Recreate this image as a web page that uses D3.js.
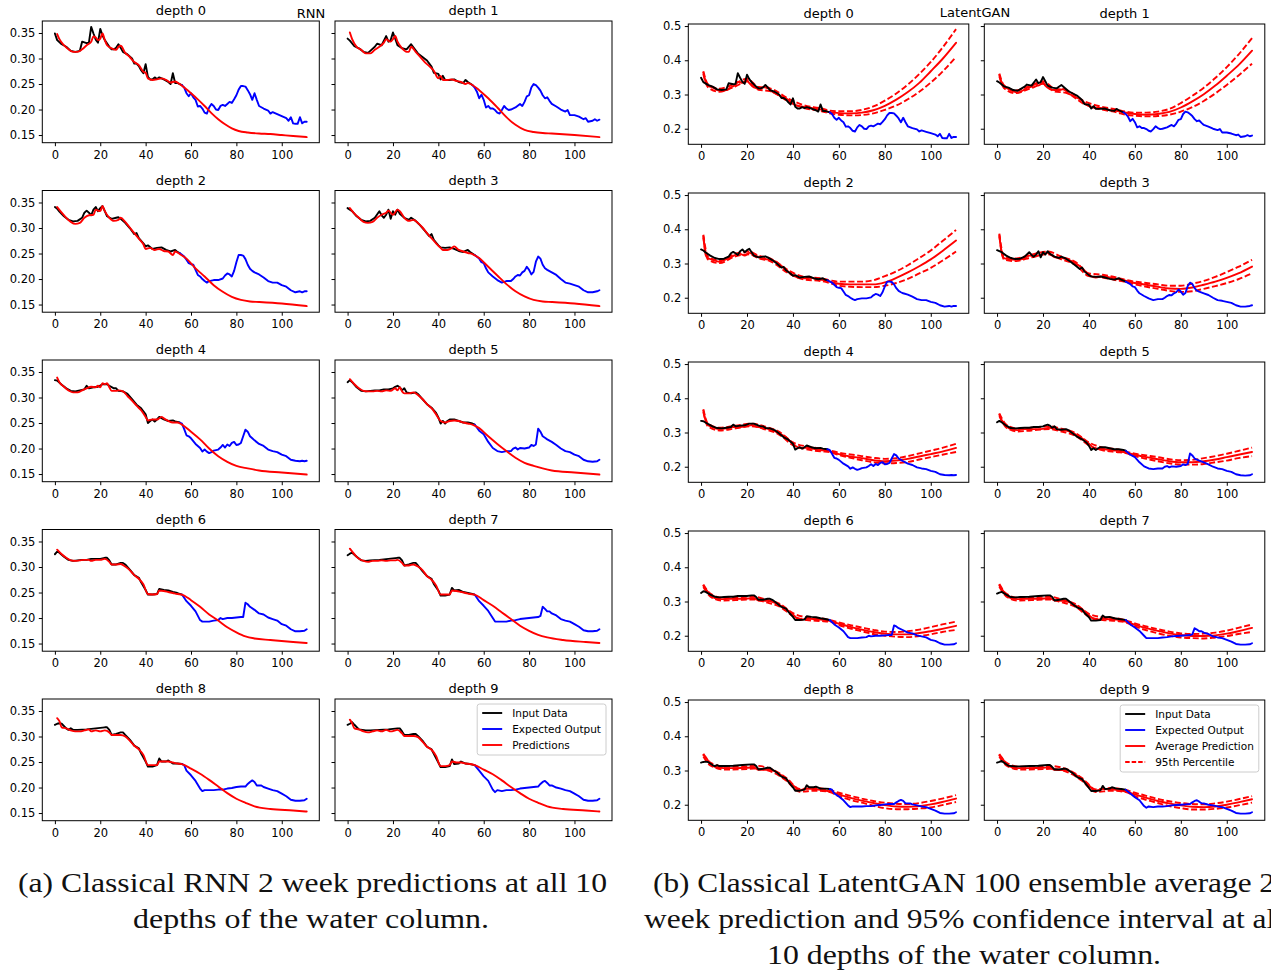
<!DOCTYPE html>
<html>
<head>
<meta charset="utf-8">
<script src="https://cdn.jsdelivr.net/npm/d3@7"></script>
<style>
  body { margin: 0; background: #fff; }
  svg { display: block; }
</style>
</head>
<body>
<svg id="fig" width="1271" height="973"></svg>
<script>
// ---------- data: one [x, value] list per depth ----------
const depths = [0, 1, 2, 3, 4, 5, 6, 7, 8, 9];
const xTicks = [0, 20, 40, 60, 80, 100];
const rnnYTicks = [0.15, 0.20, 0.25, 0.30, 0.35];
const ganYTicks = [0.2, 0.3, 0.4, 0.5];

// observed input window (black)
const inputData = [
  [[0,.349],[1,.336],[3,.328],[5,.323],[7,.315],[9,.313],[11,.315],[12,.333],[14,.330],[15,.331],[16,.362],[17,.349],[18,.337],[19,.331],[20,.358],[21,.345],[22,.336],[24,.323],[25,.318],[26,.318],[27,.321],[28,.328],[29,.321],[30,.313],[32,.308],[34,.300],[35,.290],[36,.290],[37,.285],[38,.277],[39,.271],[40,.289],[41,.264],[42,.259],[43,.259],[44,.263],[45,.260],[46,.263],[48,.259],[50,.254],[51,.250],[52,.271],[53,.252],[54,.252],[55,.250],[56,.248]],
  [[0,.339],[1,.335],[3,.324],[5,.320],[7,.313],[9,.311],[10,.315],[12,.323],[13,.329],[15,.326],[17,.344],[18,.333],[19,.336],[20,.351],[21,.339],[22,.326],[24,.320],[26,.318],[28,.328],[29,.322],[31,.310],[33,.303],[35,.296],[37,.284],[38,.272],[40,.270],[41,.259],[42,.266],[43,.258],[45,.258],[47,.259],[49,.254],[51,.252],[52,.258],[53,.254],[55,.248]],
  [[0,.341],[1,.338],[2,.332],[4,.323],[6,.316],[8,.313],[10,.314],[12,.320],[13,.330],[14,.334],[15,.330],[16,.325],[17,.336],[18,.341],[19,.333],[20,.339],[21,.343],[22,.333],[23,.323],[25,.318],[27,.320],[28,.321],[29,.318],[31,.310],[33,.300],[35,.288],[36,.290],[37,.280],[39,.270],[40,.264],[41,.266],[43,.259],[45,.261],[47,.262],[49,.257],[51,.254],[53,.257],[54,.253],[55,.251]],
  [[0,.339],[2,.333],[4,.323],[6,.316],[8,.313],[10,.314],[12,.320],[14,.333],[15,.325],[16,.320],[17,.326],[18,.336],[19,.318],[20,.333],[21,.326],[22,.336],[23,.328],[25,.320],[27,.316],[28,.320],[30,.314],[32,.305],[34,.295],[36,.284],[37,.288],[38,.277],[40,.266],[41,.262],[43,.261],[45,.262],[47,.259],[49,.255],[51,.253],[53,.257],[54,.253],[56,.247]],
  [[0,.334],[1,.333],[3,.325],[5,.318],[7,.313],[9,.312],[11,.314],[13,.316],[14,.323],[15,.318],[17,.320],[19,.321],[21,.326],[23,.326],[24,.323],[26,.318],[27,.318],[28,.313],[30,.312],[32,.307],[34,.297],[36,.286],[38,.279],[40,.267],[41,.250],[42,.254],[43,.257],[44,.253],[45,.257],[46,.262],[48,.257],[50,.254],[52,.255],[53,.253],[55,.251]],
  [[0,.330],[1,.334],[2,.330],[4,.320],[6,.313],[8,.312],[10,.313],[12,.314],[14,.314],[16,.316],[18,.316],[20,.318],[21,.321],[22,.323],[23,.320],[24,.314],[25,.318],[26,.310],[28,.308],[30,.310],[31,.307],[33,.297],[35,.287],[37,.280],[39,.270],[40,.261],[41,.249],[42,.254],[43,.249],[44,.254],[45,.257],[47,.257],[49,.254],[51,.251],[53,.251],[55,.249],[56,.247]],
  [[0,.325],[1,.330],[2,.328],[4,.320],[6,.314],[8,.312],[10,.313],[12,.314],[14,.314],[16,.316],[18,.316],[20,.316],[22,.318],[23,.318],[24,.313],[25,.305],[27,.305],[29,.308],[30,.308],[31,.305],[33,.295],[35,.284],[37,.279],[38,.270],[40,.255],[41,.246],[43,.246],[45,.247],[46,.257],[48,.255],[50,.254],[52,.251],[54,.249],[56,.246]],
  [[0,.323],[1,.326],[2,.328],[4,.320],[6,.313],[8,.312],[10,.313],[14,.314],[18,.316],[22,.318],[23,.318],[24,.313],[25,.303],[27,.305],[29,.308],[30,.308],[31,.303],[33,.292],[35,.282],[37,.277],[38,.267],[40,.254],[41,.244],[43,.244],[45,.246],[46,.259],[47,.254],[49,.255],[51,.251],[53,.249],[55,.247],[56,.246]],
  [[0,.323],[1,.325],[2,.326],[3,.325],[5,.316],[6,.313],[7,.316],[8,.313],[10,.313],[14,.314],[18,.316],[22,.318],[23,.318],[24,.313],[25,.303],[27,.305],[29,.308],[30,.308],[31,.303],[33,.294],[35,.282],[37,.277],[38,.267],[40,.251],[41,.241],[43,.241],[45,.244],[46,.257],[47,.251],[49,.251],[50,.253],[52,.247],[54,.247],[56,.246]],
  [[0,.323],[1,.325],[2,.328],[3,.323],[5,.314],[8,.312],[10,.312],[14,.313],[18,.314],[22,.316],[23,.316],[24,.310],[25,.303],[27,.303],[29,.305],[30,.305],[31,.301],[33,.292],[35,.280],[37,.275],[38,.266],[40,.249],[41,.240],[43,.240],[45,.242],[46,.255],[47,.246],[49,.247],[50,.251],[52,.247],[54,.246],[56,.244]]
];

// observed values over the forecast window (blue)
const expectedData = [
  [[56,.248],[57,.243],[58,.232],[59,.226],[60,.232],[61,.224],[62,.219],[63,.206],[64,.207],[65,.202],[66,.194],[67,.192],[68,.204],[69,.211],[70,.207],[71,.200],[72,.199],[73,.207],[74,.209],[75,.207],[76,.211],[77,.215],[78,.213],[79,.220],[80,.228],[81,.239],[82,.246],[83,.246],[84,.245],[85,.238],[86,.230],[87,.219],[88,.232],[89,.219],[90,.207],[92,.202],[94,.198],[95,.192],[96,.195],[98,.191],[100,.187],[101,.185],[102,.183],[103,.178],[104,.185],[105,.173],[106,.172],[107,.172],[108,.185],[109,.173],[110,.176],[111,.176]],
  [[55,.248],[56,.243],[57,.235],[58,.222],[59,.229],[60,.219],[61,.204],[62,.207],[63,.202],[64,.202],[65,.199],[66,.194],[67,.192],[68,.199],[69,.207],[70,.202],[71,.199],[72,.200],[74,.204],[76,.211],[77,.207],[78,.215],[79,.226],[80,.228],[81,.243],[82,.250],[83,.248],[84,.243],[85,.237],[86,.228],[87,.222],[88,.224],[89,.217],[90,.211],[92,.206],[94,.200],[96,.196],[97,.199],[98,.189],[100,.189],[102,.186],[104,.181],[105,.183],[106,.176],[108,.178],[109,.181],[110,.178],[111,.180]],
  [[55,.251],[57,.244],[58,.238],[59,.231],[60,.229],[61,.228],[62,.218],[63,.208],[64,.205],[65,.200],[66,.196],[67,.193],[68,.196],[70,.198],[72,.198],[74,.201],[75,.207],[76,.211],[77,.209],[78,.205],[79,.216],[80,.233],[81,.247],[82,.247],[83,.246],[84,.239],[85,.228],[86,.220],[87,.216],[88,.213],[90,.209],[92,.203],[94,.196],[96,.193],[98,.193],[100,.188],[102,.185],[104,.178],[106,.174],[108,.176],[109,.174],[110,.176],[111,.176]],
  [[56,.247],[58,.240],[59,.233],[60,.231],[61,.221],[62,.213],[64,.205],[66,.198],[68,.193],[70,.196],[72,.196],[73,.200],[74,.205],[75,.208],[76,.207],[77,.213],[78,.216],[79,.224],[80,.218],[81,.209],[82,.214],[83,.234],[84,.244],[85,.240],[86,.228],[87,.221],[88,.218],[90,.213],[92,.208],[94,.200],[96,.193],[98,.191],[100,.188],[102,.185],[104,.178],[106,.174],[108,.174],[110,.176],[111,.178]],
  [[55,.251],[56,.249],[57,.238],[58,.226],[59,.224],[60,.220],[62,.209],[64,.201],[65,.194],[66,.198],[67,.194],[68,.191],[69,.193],[70,.196],[72,.198],[73,.202],[74,.207],[75,.202],[76,.208],[77,.205],[78,.211],[79,.213],[80,.207],[81,.208],[82,.211],[83,.224],[84,.237],[85,.233],[86,.224],[87,.220],[88,.216],[90,.209],[92,.205],[94,.198],[96,.195],[98,.193],[100,.188],[102,.185],[104,.178],[106,.176],[108,.175],[109,.176],[110,.175],[111,.176]],
  [[56,.247],[58,.235],[60,.228],[62,.213],[64,.201],[66,.195],[68,.193],[70,.195],[72,.195],[73,.200],[74,.202],[75,.198],[76,.201],[78,.200],[80,.202],[81,.207],[82,.205],[83,.208],[84,.239],[85,.233],[86,.224],[87,.221],[88,.218],[90,.213],[92,.207],[94,.200],[96,.195],[98,.193],[100,.188],[102,.185],[104,.178],[106,.175],[108,.174],[110,.175],[111,.178]],
  [[56,.246],[58,.233],[60,.224],[62,.213],[64,.196],[65,.193],[68,.193],[70,.195],[72,.196],[73,.200],[74,.198],[76,.200],[78,.200],[80,.201],[82,.202],[83,.202],[84,.230],[85,.227],[86,.222],[88,.216],[90,.209],[92,.207],[94,.201],[96,.198],[98,.195],[100,.188],[102,.185],[104,.178],[106,.174],[108,.174],[110,.175],[111,.178]],
  [[56,.246],[58,.233],[60,.224],[62,.214],[64,.200],[65,.193],[67,.193],[70,.193],[72,.195],[74,.196],[76,.198],[78,.199],[80,.200],[82,.201],[84,.202],[85,.204],[86,.222],[87,.218],[88,.213],[89,.213],[90,.209],[92,.205],[94,.198],[96,.195],[98,.193],[100,.188],[102,.183],[104,.176],[106,.174],[108,.174],[110,.175],[111,.178]],
  [[56,.246],[57,.244],[58,.233],[60,.224],[62,.213],[64,.198],[65,.193],[66,.195],[68,.195],[70,.195],[72,.196],[74,.196],[76,.198],[78,.199],[80,.201],[82,.202],[84,.202],[85,.207],[86,.211],[87,.214],[88,.211],[89,.204],[90,.204],[91,.204],[92,.201],[94,.198],[96,.195],[98,.193],[100,.188],[102,.183],[104,.176],[106,.174],[108,.174],[110,.175],[111,.178]],
  [[56,.244],[58,.233],[60,.222],[62,.213],[64,.196],[65,.191],[66,.195],[68,.193],[70,.195],[72,.195],[74,.196],[76,.198],[78,.199],[80,.200],[82,.201],[84,.202],[85,.207],[86,.211],[87,.213],[88,.209],[89,.204],[90,.204],[92,.200],[94,.198],[96,.195],[98,.193],[100,.188],[102,.183],[104,.176],[106,.174],[108,.174],[110,.175],[111,.178]]
];

// classical RNN predictions (red, left figure)
const rnnPred = [
  [[1,.348],[2,.338],[4,.326],[6,.318],[8,.313],[10,.313],[12,.318],[14,.326],[16,.333],[17,.343],[18,.341],[19,.336],[20,.339],[21,.349],[22,.336],[23,.326],[25,.320],[27,.317],[28,.323],[29,.325],[31,.311],[33,.303],[35,.293],[37,.287],[39,.274],[40,.272],[41,.261],[43,.258],[45,.259],[47,.261],[49,.258],[51,.253],[53,.255],[55,.250],[57,.243],[60,.232],[63,.220],[66,.207],[69,.193],[72,.181],[75,.171],[78,.163],[81,.158],[85,.155],[90,.153],[95,.152],[100,.150],[105,.148],[111,.146]],
  [[1,.351],[2,.338],[4,.323],[6,.317],[8,.310],[10,.310],[12,.317],[14,.323],[16,.331],[17,.338],[18,.335],[19,.333],[20,.338],[21,.344],[22,.333],[24,.320],[26,.313],[27,.313],[28,.323],[30,.313],[32,.303],[34,.293],[36,.285],[38,.276],[40,.261],[41,.266],[42,.258],[44,.258],[46,.259],[48,.256],[50,.254],[52,.250],[53,.252],[55,.248],[58,.238],[62,.222],[66,.204],[70,.185],[74,.170],[78,.160],[82,.156],[86,.154],[90,.153],[100,.150],[111,.146]],
  [[1,.341],[3,.330],[5,.320],[7,.312],[9,.308],[11,.310],[13,.320],[15,.325],[17,.326],[18,.336],[19,.334],[20,.333],[21,.343],[22,.333],[24,.320],[26,.314],[28,.316],[29,.320],[31,.312],[33,.301],[35,.290],[37,.279],[39,.268],[40,.259],[42,.261],[44,.257],[46,.259],[48,.255],[50,.254],[52,.247],[53,.254],[55,.249],[58,.240],[62,.221],[66,.205],[70,.188],[74,.175],[78,.165],[82,.159],[86,.156],[90,.155],[100,.152],[111,.147]],
  [[1,.339],[3,.328],[5,.320],[7,.312],[9,.310],[11,.312],[13,.320],[15,.326],[17,.330],[18,.334],[20,.326],[22,.336],[23,.333],[25,.320],[27,.314],[29,.316],[31,.310],[33,.301],[35,.290],[37,.280],[39,.270],[41,.261],[42,.257],[44,.257],[46,.261],[47,.264],[49,.257],[51,.254],[53,.251],[55,.249],[58,.241],[62,.224],[66,.207],[70,.190],[74,.176],[78,.166],[82,.159],[86,.156],[90,.155],[100,.152],[111,.147]],
  [[1,.339],[2,.330],[4,.321],[6,.314],[8,.310],[10,.310],[12,.314],[14,.318],[16,.321],[18,.320],[19,.323],[20,.320],[21,.328],[22,.326],[23,.328],[24,.320],[25,.313],[27,.313],[28,.314],[30,.312],[32,.303],[34,.294],[36,.284],[38,.275],[40,.262],[41,.255],[43,.257],[45,.257],[47,.262],[48,.259],[50,.254],[52,.251],[54,.251],[56,.247],[60,.233],[64,.218],[68,.200],[72,.185],[76,.174],[80,.166],[85,.161],[90,.157],[100,.153],[111,.149]],
  [[1,.336],[3,.326],[5,.318],[7,.313],[9,.312],[11,.312],[13,.313],[15,.312],[17,.314],[19,.313],[21,.318],[22,.314],[23,.320],[24,.312],[25,.308],[27,.308],[29,.310],[31,.305],[33,.297],[35,.287],[37,.279],[39,.267],[41,.254],[43,.251],[45,.254],[47,.255],[49,.254],[51,.251],[53,.249],[55,.247],[58,.240],[62,.224],[66,.209],[70,.195],[74,.182],[78,.172],[82,.166],[86,.161],[90,.157],[100,.153],[111,.149]],
  [[1,.334],[3,.325],[5,.318],[7,.313],[9,.312],[11,.313],[13,.314],[15,.314],[16,.312],[18,.314],[20,.314],[22,.316],[24,.310],[25,.305],[27,.305],[29,.306],[31,.301],[33,.294],[35,.284],[37,.277],[39,.266],[41,.247],[43,.246],[45,.247],[46,.254],[48,.253],[50,.251],[52,.249],[54,.247],[56,.246],[60,.235],[64,.222],[68,.207],[72,.195],[76,.182],[80,.172],[84,.164],[88,.160],[95,.157],[105,.153],[111,.151]],
  [[1,.336],[3,.325],[5,.316],[7,.312],[9,.310],[11,.312],[13,.312],[15,.313],[17,.312],[19,.313],[21,.313],[22,.314],[24,.308],[25,.303],[27,.303],[29,.305],[31,.301],[33,.294],[35,.282],[37,.275],[39,.264],[41,.246],[43,.246],[45,.246],[46,.254],[48,.253],[50,.251],[52,.249],[54,.247],[56,.246],[60,.235],[64,.224],[68,.211],[72,.198],[76,.185],[80,.175],[84,.167],[88,.162],[95,.157],[105,.153],[111,.151]],
  [[1,.336],[2,.330],[3,.318],[5,.316],[7,.312],[9,.310],[11,.310],[13,.312],[15,.314],[16,.310],[18,.312],[20,.310],[22,.312],[24,.308],[25,.303],[27,.303],[29,.303],[31,.300],[33,.292],[35,.282],[37,.275],[39,.264],[41,.244],[43,.244],[45,.244],[46,.251],[48,.251],[50,.251],[52,.249],[54,.247],[56,.246],[60,.237],[64,.227],[68,.215],[72,.202],[76,.189],[80,.178],[84,.170],[88,.163],[95,.158],[105,.155],[111,.153]],
  [[1,.333],[2,.326],[3,.316],[5,.314],[7,.310],[9,.308],[11,.310],[13,.312],[15,.310],[17,.313],[19,.310],[21,.312],[22,.313],[24,.306],[25,.301],[27,.301],[29,.301],[31,.299],[33,.290],[35,.280],[37,.274],[39,.262],[41,.242],[43,.242],[45,.244],[46,.251],[48,.249],[50,.249],[52,.247],[54,.246],[56,.244],[60,.235],[64,.226],[68,.214],[72,.201],[76,.189],[80,.178],[84,.170],[88,.163],[95,.158],[105,.155],[111,.153]]
];

// LatentGAN ensemble average (solid red, right figure)
const ganMean = [
  [[1,.364],[2,.337],[3,.325],[5,.321],[7,.313],[9,.311],[11,.313],[13,.321],[15,.328],[16,.337],[18,.334],[20,.342],[21,.333],[23,.321],[25,.318],[27,.321],[29,.321],[31,.308],[33,.301],[35,.294],[37,.289],[39,.279],[41,.269],[43,.266],[45,.264],[47,.262],[49,.259],[51,.257],[53,.255],[55,.250],[58,.247],[62,.245],[66,.245],[70,.247],[75,.254],[80,.267],[85,.285],[90,.307],[95,.334],[100,.368],[105,.403],[111,.451]],
  [[1,.357],[2,.335],[3,.323],[5,.316],[7,.309],[9,.306],[11,.311],[13,.319],[15,.323],[17,.332],[18,.326],[20,.335],[21,.326],[23,.316],[25,.313],[27,.313],[29,.316],[31,.303],[33,.297],[35,.290],[37,.282],[39,.270],[41,.263],[43,.261],[45,.261],[47,.258],[49,.255],[51,.253],[53,.251],[55,.248],[60,.243],[65,.241],[70,.243],[75,.249],[80,.262],[85,.280],[90,.301],[95,.326],[100,.355],[105,.385],[111,.428]],
  [[1,.380],[2,.325],[3,.316],[5,.311],[8,.305],[10,.310],[13,.319],[15,.325],[17,.328],[19,.323],[21,.331],[23,.325],[25,.319],[28,.313],[30,.311],[33,.304],[36,.287],[39,.271],[42,.259],[45,.257],[48,.258],[51,.253],[54,.251],[57,.245],[60,.241],[65,.239],[70,.239],[75,.239],[80,.245],[85,.258],[90,.274],[95,.292],[100,.312],[105,.336],[111,.367]],
  [[1,.383],[2,.331],[3,.316],[5,.313],[8,.311],[11,.313],[14,.323],[17,.322],[20,.328],[22,.331],[25,.319],[28,.316],[31,.311],[34,.301],[37,.287],[40,.267],[43,.259],[46,.263],[49,.259],[52,.255],[55,.251],[60,.243],[65,.238],[70,.232],[75,.227],[80,.226],[85,.230],[90,.238],[95,.247],[100,.258],[105,.271],[111,.291]],
  [[1,.364],[2,.334],[3,.322],[5,.316],[8,.310],[11,.312],[14,.316],[17,.316],[20,.319],[22,.322],[25,.316],[28,.313],[31,.307],[34,.298],[37,.286],[40,.267],[43,.255],[46,.255],[49,.252],[52,.249],[55,.247],[60,.237],[65,.230],[70,.225],[75,.219],[80,.216],[85,.218],[90,.223],[95,.230],[100,.237],[105,.244],[111,.255]],
  [[1,.352],[2,.336],[4,.319],[6,.310],[9,.307],[12,.310],[15,.310],[18,.310],[21,.312],[23,.314],[25,.310],[28,.307],[31,.304],[34,.295],[37,.283],[40,.267],[43,.252],[46,.252],[49,.249],[52,.247],[55,.243],[60,.235],[65,.228],[70,.222],[75,.216],[80,.213],[85,.213],[90,.216],[95,.221],[100,.228],[105,.235],[111,.243]],
  [[1,.346],[2,.337],[4,.319],[6,.310],[9,.307],[12,.308],[15,.308],[18,.308],[21,.309],[23,.310],[25,.303],[28,.302],[31,.299],[34,.290],[37,.278],[40,.262],[43,.246],[46,.250],[49,.249],[52,.247],[55,.245],[60,.235],[65,.226],[70,.218],[75,.211],[80,.206],[85,.204],[90,.204],[95,.208],[100,.213],[105,.220],[111,.229]],
  [[1,.347],[2,.337],[4,.319],[6,.310],[9,.307],[12,.308],[15,.308],[18,.308],[21,.309],[23,.310],[25,.303],[28,.302],[31,.299],[34,.289],[37,.277],[40,.260],[43,.246],[46,.250],[49,.248],[52,.247],[55,.243],[60,.232],[65,.222],[70,.214],[75,.207],[80,.202],[85,.199],[90,.199],[95,.201],[100,.206],[105,.213],[111,.223]],
  [[1,.345],[2,.339],[4,.319],[6,.311],[10,.307],[15,.307],[20,.308],[23,.310],[25,.302],[30,.302],[34,.290],[37,.275],[40,.257],[43,.242],[46,.247],[50,.245],[55,.240],[60,.230],[65,.220],[70,.212],[75,.205],[80,.199],[85,.195],[90,.194],[95,.196],[100,.201],[105,.208],[111,.218]],
  [[1,.344],[2,.338],[4,.319],[6,.311],[10,.307],[15,.307],[20,.308],[23,.309],[25,.302],[30,.301],[34,.289],[37,.274],[40,.256],[43,.241],[46,.246],[50,.245],[55,.240],[60,.230],[65,.220],[70,.211],[75,.204],[80,.198],[85,.194],[90,.193],[95,.195],[100,.200],[105,.207],[111,.216]]
];

// LatentGAN upper percentile (dashed red)
const ganUpper = [
  [[1,.368],[3,.330],[8,.317],[15,.333],[20,.346],[25,.322],[30,.318],[38,.288],[45,.268],[52,.260],[56,.253],[60,.251],[65,.251],[70,.255],[75,.265],[80,.282],[85,.303],[90,.329],[95,.360],[100,.395],[105,.436],[111,.491]],
  [[1,.361],[3,.327],[8,.312],[15,.327],[20,.339],[25,.317],[30,.313],[38,.280],[45,.265],[52,.256],[56,.250],[60,.247],[65,.247],[70,.250],[75,.258],[80,.275],[85,.296],[90,.320],[95,.348],[100,.380],[105,.416],[111,.465]],
  [[1,.384],[3,.320],[8,.309],[15,.329],[21,.335],[25,.323],[30,.315],[38,.280],[45,.261],[52,.257],[56,.251],[60,.247],[65,.247],[70,.247],[75,.251],[80,.263],[85,.277],[90,.295],[95,.316],[100,.338],[105,.365],[111,.398]],
  [[1,.387],[3,.320],[8,.315],[15,.326],[22,.335],[28,.320],[34,.305],[40,.271],[46,.267],[52,.259],[56,.252],[60,.247],[65,.243],[70,.239],[75,.235],[80,.235],[85,.241],[90,.249],[95,.261],[100,.275],[105,.290],[111,.311]],
  [[1,.368],[3,.326],[8,.314],[15,.320],[22,.326],[28,.317],[34,.302],[40,.271],[46,.259],[52,.253],[56,.248],[60,.241],[65,.236],[70,.231],[75,.226],[80,.223],[85,.225],[90,.231],[95,.239],[100,.247],[105,.255],[111,.267]],
  [[1,.356],[4,.323],[9,.311],[15,.314],[23,.318],[28,.311],[34,.299],[40,.271],[46,.256],[52,.251],[56,.244],[60,.238],[65,.233],[70,.228],[75,.222],[80,.219],[85,.220],[90,.225],[95,.231],[100,.238],[105,.246],[111,.256]],
  [[1,.350],[4,.323],[9,.311],[15,.312],[23,.314],[28,.306],[34,.294],[40,.266],[46,.254],[52,.251],[56,.246],[60,.239],[65,.231],[70,.224],[75,.217],[80,.212],[85,.211],[90,.213],[95,.218],[100,.225],[105,.233],[111,.241]],
  [[1,.351],[4,.323],[9,.311],[15,.312],[23,.314],[28,.306],[34,.293],[40,.264],[46,.254],[52,.251],[56,.245],[60,.236],[65,.227],[70,.219],[75,.212],[80,.207],[85,.205],[90,.206],[95,.209],[100,.215],[105,.223],[111,.233]],
  [[1,.349],[4,.323],[10,.311],[20,.312],[23,.314],[30,.306],[37,.279],[43,.246],[50,.249],[56,.243],[60,.235],[65,.226],[70,.218],[75,.211],[80,.206],[85,.203],[90,.202],[95,.205],[100,.211],[105,.218],[111,.228]],
  [[1,.348],[4,.323],[10,.311],[20,.312],[23,.313],[30,.305],[37,.278],[43,.245],[50,.249],[56,.243],[60,.235],[65,.226],[70,.217],[75,.210],[80,.205],[85,.202],[90,.201],[95,.204],[100,.209],[105,.216],[111,.225]]
];

// LatentGAN lower percentile (dashed red)
const ganLower = [
  [[1,.360],[3,.321],[8,.308],[15,.324],[20,.338],[25,.314],[30,.310],[38,.280],[45,.260],[52,.252],[56,.245],[60,.241],[65,.239],[70,.240],[75,.245],[80,.255],[85,.268],[90,.286],[95,.308],[100,.335],[105,.366],[111,.410]],
  [[1,.353],[3,.319],[8,.304],[15,.319],[20,.331],[25,.309],[30,.305],[38,.272],[45,.257],[52,.248],[56,.241],[60,.238],[65,.236],[70,.237],[75,.241],[80,.250],[85,.263],[90,.281],[95,.303],[100,.328],[105,.355],[111,.390]],
  [[1,.376],[3,.312],[8,.301],[15,.321],[21,.327],[25,.315],[30,.307],[38,.272],[45,.253],[52,.249],[56,.243],[60,.235],[65,.232],[70,.231],[75,.231],[80,.235],[85,.243],[90,.255],[95,.271],[100,.287],[105,.308],[111,.335]],
  [[1,.379],[3,.312],[8,.307],[15,.318],[22,.327],[28,.312],[34,.297],[40,.263],[46,.259],[52,.251],[56,.246],[60,.239],[65,.232],[70,.226],[75,.220],[80,.217],[85,.219],[90,.226],[95,.234],[100,.243],[105,.254],[111,.271]],
  [[1,.360],[3,.318],[8,.306],[15,.312],[22,.318],[28,.309],[34,.294],[40,.263],[46,.251],[52,.245],[56,.243],[60,.234],[65,.226],[70,.219],[75,.213],[80,.210],[85,.211],[90,.214],[95,.221],[100,.228],[105,.235],[111,.243]],
  [[1,.348],[4,.315],[9,.303],[15,.306],[23,.310],[28,.303],[34,.291],[40,.263],[46,.248],[52,.243],[56,.240],[60,.231],[65,.223],[70,.216],[75,.210],[80,.206],[85,.206],[90,.208],[95,.213],[100,.218],[105,.225],[111,.231]],
  [[1,.342],[4,.315],[9,.303],[15,.304],[23,.306],[28,.298],[34,.286],[40,.258],[46,.246],[52,.243],[56,.241],[60,.231],[65,.221],[70,.213],[75,.205],[80,.200],[85,.197],[90,.196],[95,.199],[100,.204],[105,.211],[111,.217]],
  [[1,.343],[4,.315],[9,.303],[15,.304],[23,.306],[28,.298],[34,.285],[40,.256],[46,.246],[52,.243],[56,.239],[60,.227],[65,.216],[70,.207],[75,.200],[80,.195],[85,.193],[90,.192],[95,.195],[100,.199],[105,.205],[111,.211]],
  [[1,.341],[4,.315],[10,.303],[20,.304],[23,.306],[30,.298],[37,.271],[43,.238],[50,.241],[56,.237],[60,.225],[65,.214],[70,.206],[75,.197],[80,.190],[85,.187],[90,.187],[95,.189],[100,.192],[105,.199],[111,.208]],
  [[1,.340],[4,.315],[10,.303],[20,.304],[23,.305],[30,.297],[37,.270],[43,.237],[50,.241],[56,.237],[60,.225],[65,.214],[70,.205],[75,.196],[80,.190],[85,.186],[90,.186],[95,.188],[100,.192],[105,.198],[111,.206]]
];

const rnnLegend = ['Input Data', 'Expected Output', 'Predictions'];
const ganLegend = ['Input Data', 'Expected Output', 'Average Prediction', '95th Percentile'];
const captionA = ['(a) Classical RNN 2 week predictions at all 10', 'depths of the water column.'];
const captionB = ['(b) Classical LatentGAN 100 ensemble average 2', 'week prediction and 95% confidence interval at all', '10 depths of the water column.'];

// ---------- drawing ----------
const SANS = '"DejaVu Sans", sans-serif';
const SERIF = '"Liberation Serif", "DejaVu Serif", serif';
const BLACK = '#000000', BLUE = '#0000ff', RED = '#ff0000';
const LW = 1.9;
const xDomain = [-5.55, 116.55];

const svg = d3.select('#fig');

const rnnLayout = {
  colLeft: [42.3, 335], width: 277, top0: 21, rowStep: 169.5, height: 121.7,
  yDomain: [0.135, 0.3735], yTicks: rnnYTicks, yFmt: d3.format('.2f')
};
const ganLayout = {
  colLeft: [688.3, 984.3], width: 280.5, top0: 24, rowStep: 169, height: 120.3,
  yDomain: [0.1545, 0.506], yTicks: ganYTicks, yFmt: d3.format('.1f')
};

function styleAxis(g) {
  g.select('.domain').remove();
  g.selectAll('.tick line').attr('stroke', BLACK).attr('stroke-width', 1);
  g.selectAll('.tick text').attr('fill', BLACK).attr('font-family', SANS).attr('font-size', 11.5);
}

function drawPanel(layout, drawSeries) {
  const panels = [];
  depths.forEach(d => {
    const col = d % 2, row = Math.floor(d / 2);
    const left = layout.colLeft[col];
    const top = layout.top0 + row * layout.rowStep;
    const w = layout.width, h = layout.height;
    const x = d3.scaleLinear().domain(xDomain).range([left, left + w]);
    const y = d3.scaleLinear().domain(layout.yDomain).range([top + h, top]);
    const g = svg.append('g').attr('class', 'subplot');

    drawSeries(g, d, x, y);

    g.append('rect')
      .attr('x', left).attr('y', top).attr('width', w).attr('height', h)
      .attr('fill', 'none').attr('stroke', BLACK).attr('stroke-width', 1);

    g.append('g')
      .attr('transform', `translate(0,${top + h})`)
      .call(d3.axisBottom(x).tickValues(xTicks).tickSize(3.5).tickPadding(4.3).tickFormat(d3.format('d')))
      .call(styleAxis);

    g.append('g')
      .attr('transform', `translate(${left},0)`)
      .call(d3.axisLeft(y).tickValues(layout.yTicks).tickSize(3.5).tickPadding(3.5)
        .tickFormat(col === 0 ? layout.yFmt : () => ''))
      .call(styleAxis);

    g.append('text')
      .attr('x', left + w / 2).attr('y', top - 6)
      .attr('text-anchor', 'middle')
      .attr('font-family', SANS).attr('font-size', 13).attr('fill', BLACK)
      .text(`depth ${d}`);

    panels.push({ d, left, top, w, h });
  });
  return panels;
}

function path(g, data, x, y, color, opts = {}) {
  const line = d3.line().x(p => x(p[0])).y(p => y(p[1]))
    .curve(opts.smooth ? d3.curveMonotoneX : d3.curveLinear);
  g.append('path')
    .datum(data)
    .attr('d', line)
    .attr('fill', 'none')
    .attr('stroke', color)
    .attr('stroke-width', LW)
    .attr('stroke-linejoin', 'round')
    .attr('stroke-linecap', opts.dash ? 'butt' : 'round')
    .attr('stroke-dasharray', opts.dash || null);
}

const DASH = '6,2.6';

// left figure: classical RNN
const rnnPanels = drawPanel(rnnLayout, (g, d, x, y) => {
  path(g, inputData[d], x, y, BLACK);
  path(g, expectedData[d], x, y, BLUE);
  path(g, rnnPred[d], x, y, RED, { smooth: true });
});

// right figure: LatentGAN ensemble
const ganPanels = drawPanel(ganLayout, (g, d, x, y) => {
  path(g, ganUpper[d], x, y, RED, { smooth: true, dash: DASH });
  path(g, ganLower[d], x, y, RED, { smooth: true, dash: DASH });
  path(g, ganMean[d], x, y, RED, { smooth: true });
  path(g, inputData[d], x, y, BLACK);
  path(g, expectedData[d], x, y, BLUE);
});

// legends, placed in the upper right of the depth 9 axes
function legend(panel, labels, styles) {
  const rowH = 16;
  const g = svg.append('g');
  const box = g.append('rect');
  const texts = labels.map((lab, i) => g.append('text')
    .attr('font-family', SANS).attr('font-size', 10.5).attr('fill', BLACK)
    .attr('dy', '0.35em').text(lab));
  const tw = d3.max(texts, t => t.node().getComputedTextLength());
  const bw = 35 + tw + 5, bh = labels.length * rowH + 3;
  const bx = panel.left + panel.w - 6 - bw, by = panel.top + 5;
  box.attr('x', bx).attr('y', by).attr('width', bw).attr('height', bh)
    .attr('rx', 2.5).attr('fill', '#ffffff').attr('fill-opacity', 0.8)
    .attr('stroke', '#cccccc').attr('stroke-width', 1);
  labels.forEach((lab, i) => {
    const cy = by + 9 + i * rowH;
    g.append('line')
      .attr('x1', bx + 5).attr('x2', bx + 25).attr('y1', cy).attr('y2', cy)
      .attr('stroke', styles[i].color).attr('stroke-width', LW)
      .attr('stroke-dasharray', styles[i].dash || null);
    texts[i].attr('x', bx + 35).attr('y', cy);
  });
}

legend(rnnPanels[9], rnnLegend, [{ color: BLACK }, { color: BLUE }, { color: RED }]);
legend(ganPanels[9], ganLegend, [{ color: BLACK }, { color: BLUE }, { color: RED }, { color: RED, dash: '4.5,2' }]);

// figure titles
svg.append('text').attr('x', 311).attr('y', 18).attr('text-anchor', 'middle')
  .attr('font-family', SANS).attr('font-size', 13).attr('fill', BLACK).text('RNN');
svg.append('text').attr('x', 975).attr('y', 17).attr('text-anchor', 'middle')
  .attr('font-family', SANS).attr('font-size', 13).attr('fill', BLACK).text('LatentGAN');

// sub-figure captions
const capFont = 28;
function capLine(text, x, y, len, anchor) {
  svg.append('text')
    .attr('x', x).attr('y', y)
    .attr('text-anchor', anchor)
    .attr('font-family', SERIF).attr('font-size', capFont).attr('fill', '#111')
    .attr('textLength', len).attr('lengthAdjust', 'spacingAndGlyphs')
    .text(text);
}
capLine(captionA[0], 18, 892, 589, 'start');
capLine(captionA[1], 311, 928, 356, 'middle');
capLine(captionB[0], 653, 892, 622, 'start');
capLine(captionB[1], 644, 928, 640, 'start');
capLine(captionB[2], 964, 964, 394, 'middle');
</script>
</body>
</html>
